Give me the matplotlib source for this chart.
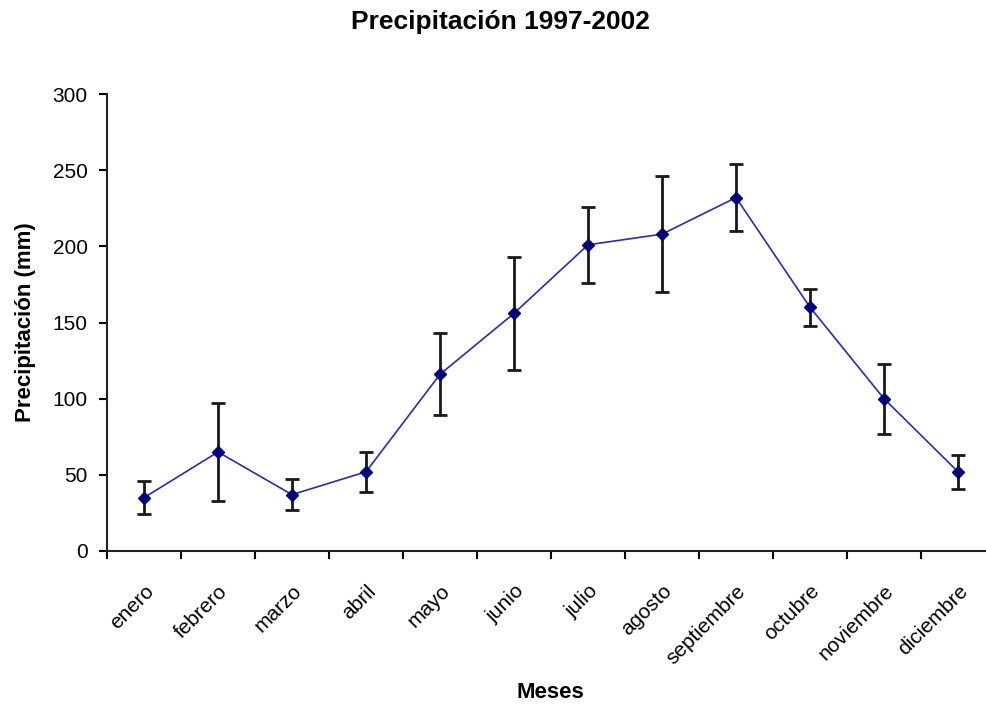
import matplotlib
matplotlib.use("Agg")
import matplotlib.pyplot as plt

meses = ["enero", "febrero", "marzo", "abril", "mayo", "junio", "julio",
         "agosto", "septiembre", "octubre", "noviembre", "diciembre"]
precip = [35, 65, 37, 52, 116, 156, 201, 208, 232, 160, 100, 52]
error = [11, 32, 10, 13, 27, 37, 25, 38, 22, 12, 23, 11]
yticks = [0, 50, 100, 150, 200, 250, 300]

plt.rcParams['font.family'] = ['Liberation Sans', 'DejaVu Sans']

fig = plt.figure(figsize=(9.86, 7.07), dpi=100)
ax = fig.add_axes([107/986, 1-551/707, 888/986, (551-94)/707])

x = list(range(len(meses)))
ax.errorbar(x, precip, yerr=error, fmt='none', ecolor='#1a1a1a',
            elinewidth=2, capsize=5, capthick=2, zorder=2)
ax.plot(x, precip, color='#2b2bb0', lw=1.2, marker='D', ms=6,
        mfc='#00007a', mec='#00007a', zorder=3)

ax.set_xlim(-0.5, len(meses) - 0.5)
ax.set_ylim(0, 300)
ax.set_yticks(yticks)
ax.set_xticks([i - 0.5 for i in range(len(meses) + 1)], minor=False)
ax.set_xticklabels([])
ax.set_xticks(x, minor=True)
ax.set_xticklabels(meses, minor=True, rotation=45, ha='right',
                   rotation_mode='anchor', fontsize=15)
ax.tick_params(axis='x', which='minor', length=0, pad=22)
ax.tick_params(axis='x', which='major', direction='out', length=6, width=1.5)
ax.tick_params(axis='y', direction='out', length=6, width=1.5, labelsize=15, pad=8)

for s in ['top', 'right']:
    ax.spines[s].set_visible(False)
for s in ['left', 'bottom']:
    ax.spines[s].set_linewidth(1.5)
    ax.spines[s].set_color('#222222')

ax.set_ylabel('Precipitación (mm)', fontsize=16, fontweight='bold', labelpad=12)
fig.text(550/986, 1-692/707, 'Meses', ha='center', va='center',
         fontsize=16, fontweight='bold')
fig.text(500/986, 1-22/707, 'Precipitación 1997-2002', ha='center', va='center',
         fontsize=19, fontweight='bold')

fig.savefig('out.png', dpi=100)
